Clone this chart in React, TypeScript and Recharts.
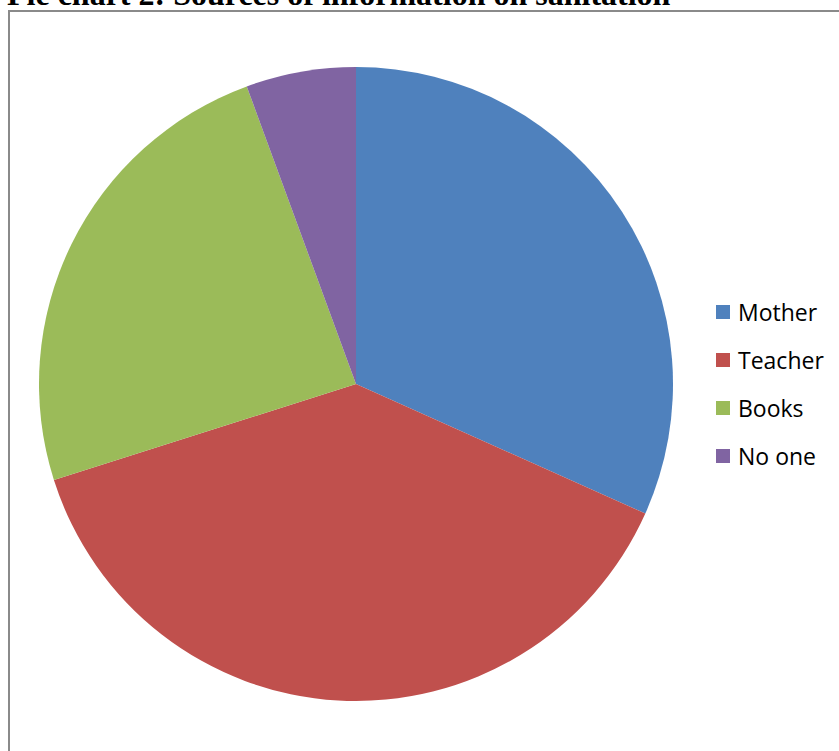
import React from 'react';
import { PieChart, Pie, Cell, Legend } from 'recharts';

const categories = ['Mother', 'Teacher', 'Books', 'No one'];
const values = [31.7, 38.4, 24.3, 5.6];
const colors = ['#4F81BD', '#C0504D', '#9BBB59', '#8064A2'];
const title = 'Pie chart 2: Sources of information on sanitation';

const data = categories.map((name, i) => ({ name, value: values[i] }));

const renderLegend = (props: any) => {
  const payload = [...(props.payload || [])].sort(
    (a: any, b: any) => categories.indexOf(a.value) - categories.indexOf(b.value)
  );
  return (
    <div style={{ fontFamily: '"Open Sans", sans-serif', fontSize: 23, color: '#000' }}>
      {payload.map((entry: any, i: number) => (
        <div key={i} style={{ display: 'flex', alignItems: 'center', height: 48 }}>
          <div style={{ width: 14, height: 14, background: entry.color, marginRight: 8 }} />
          <span>{entry.value}</span>
        </div>
      ))}
    </div>
  );
};

export default function App() {
  return (
    <div style={{ position: 'absolute', left: 0, top: 0, width: 839, height: 751, overflow: 'hidden', background: '#fff' }}>
      <svg width={839} height={751} style={{ position: 'absolute', left: 0, top: 0 }}>
        <text x={7} y={4.5} fontFamily='"Liberation Serif", "Times New Roman", serif' fontWeight="bold" fontSize={32} fill="#000">
          {title}
        </text>
        <rect x={9} y={11} width={900} height={800} fill="none" stroke="#8a8a8a" strokeWidth={2} />
      </svg>
      <div style={{ position: 'absolute', left: 0, top: 0 }}>
        <PieChart width={839} height={751} margin={{ top: 0, right: 0, bottom: 0, left: 0 }}>
          <Pie
            data={data}
            dataKey="value"
            nameKey="name"
            cx={356}
            cy={384}
            outerRadius={317}
            startAngle={90}
            endAngle={-270}
            stroke="none"
            isAnimationActive={false}
          >
            {data.map((d, i) => (
              <Cell key={d.name} fill={colors[i]} />
            ))}
          </Pie>
          <Legend
            layout="vertical"
            itemSorter={null as any}
            content={renderLegend}
            wrapperStyle={{ position: 'absolute', left: 716, top: 288, width: 120 }}
          />
        </PieChart>
      </div>
    </div>
  );
}
